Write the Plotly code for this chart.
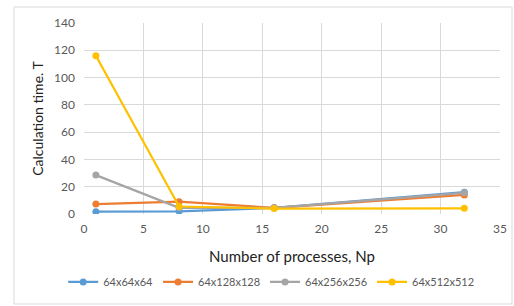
import plotly.graph_objects as go

np_vals = [1, 8, 16, 32]
series_names = ["64x64x64", "64x128x128", "64x256x256", "64x512x512"]
t_64 = [1.7, 2.0, 4.5, 16.0]
t_128 = [7.3, 9.0, 4.5, 14.0]
t_256 = [28.5, 4.5, 4.5, 15.5]
t_512 = [116, 5.5, 4, 4.2]
colors = ["#5B9BD5", "#ED7D31", "#A5A5A5", "#FFC000"]

fig = go.Figure()
for name, ys, c in zip(series_names, [t_64, t_128, t_256, t_512], colors):
    fig.add_trace(go.Scatter(x=np_vals, y=ys, name=name, mode="lines+markers",
                             line=dict(color=c, width=2.25),
                             marker=dict(color=c, size=7)))

font = "Lato, 'Open Sans', sans-serif"
fig.update_layout(
    width=514, height=306,
    margin=dict(l=84, r=14, t=23, b=92, autoexpand=False),
    paper_bgcolor="white", plot_bgcolor="white",
    font=dict(family=font, color="#595959", size=12),
    showlegend=True,
    legend=dict(orientation="h", x=0.45, xanchor="center", y=-0.356, yanchor="middle",
                font=dict(size=11, color="#595959"), tracegroupgap=0),
    xaxis=dict(range=[0, 35], dtick=5, showgrid=True, gridcolor="#D9D9D9", gridwidth=1,
               zeroline=False, showline=False, ticks="", automargin=False,
               ticklabelstandoff=6,
               title=dict(text="Number of processes, Np", font=dict(size=15, color="#222"), standoff=16)),
    yaxis=dict(range=[0, 140], dtick=20, showgrid=True, gridcolor="#D9D9D9", gridwidth=1,
               zeroline=False, showline=False, ticks="", automargin=False,
               ticklabelstandoff=8,
               title=dict(text="Calculation time. T", font=dict(size=14, color="#222"), standoff=7)),
    shapes=[dict(type="rect", xref="paper", yref="paper",
                 x0=(14-84)/416, x1=(512-84)/416, y0=(214-304)/191, y1=(214-7)/191,
                 line=dict(color="#D9D9D9", width=1), fillcolor="rgba(0,0,0,0)", layer="below")],
)
fig.write_html("out.html", config={"displayModeBar": False},
               post_script="document.body.style.margin='0';")
